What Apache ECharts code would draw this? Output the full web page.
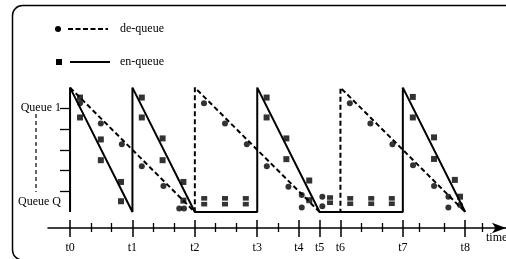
<!DOCTYPE html>
<html>
<head>
<meta charset="utf-8">
<script src="https://cdn.jsdelivr.net/npm/echarts@6/dist/echarts.min.js"></script>
<style>html,body{margin:0;padding:0;background:#fff}#c{width:506px;height:259px}</style>
</head>
<body>
<div id="c"></div>
<script>
// ---- data ----
const majorTimes = [0, 3, 6, 9, 11, 12, 13, 16, 19];
const timeLabels = ['t0', 't1', 't2', 't3', 't4', 't5', 't6', 't7', 't8'];
const minorTimes = [1, 2, 4, 5, 7, 8, 10, 14, 15, 16.8, 18, 19.8];
const queueTickValues = [1, 2, 3, 4, 5];
const queueLabelValues = [5, 0.5];
const queueLabels = ['Queue 1', 'Queue Q'];

const enqueueLineT = [0, 0, 3, 3, 6, 9, 9, 12, 16, 16, 19];
const enqueueLineQ = [0, 6, 0, 6, 0, 0, 6, 0, 0, 6, 0];
const dequeueLineT = [0, 6, 6, 12, 13, 13, 19];
const dequeueLineQ = [6, 0, 6, 0, 0, 6, 0];

const enqueuePtsT = [0.48, 0.48, 1.48, 1.48, 2.45, 2.45, 3.45, 3.45, 4.45, 4.45, 5.45, 5.45,
  9.45, 9.45, 10.4, 10.4, 11.5, 11.5, 16.48, 16.48, 17.5, 17.5, 18.5, 18.75];
const enqueuePtsQ = [5.52, 4.56, 3.5, 2.5, 1.45, 0.52, 5.52, 4.56, 3.55, 2.5, 1.45, 0.55,
  5.52, 4.56, 3.55, 2.55, 1.52, 0.57, 5.55, 4.56, 3.6, 2.56, 1.55, 0.74];
const enqueueStackT = [6.45, 6.45, 7.45, 7.45, 8.45, 8.45, 12.5, 12.5, 13.47, 13.47, 14.48, 14.48, 15.47, 15.47];
const enqueueStackQ = [0.66, 0.38, 0.66, 0.38, 0.66, 0.38, 0.7, 0.45, 0.66, 0.4, 0.66, 0.4, 0.66, 0.4];

const dequeuePtsT = [0.48, 1.48, 2.49, 3.45, 4.49, 5.25, 5.48, 6.44, 7.45, 8.5, 9.46, 10.5, 11.14, 11.14, 12.13, 12.13,
  13.45, 14.44, 15.5, 16.49, 17.5, 18.19, 18.19, 18.75];
const dequeuePtsQ = [5.24, 4.27, 3.27, 2.21, 1.25, 0.17, 0.17, 5.24, 4.27, 3.27, 2.21, 1.22, 0.82, 0.22, 0.74, 0.28,
  5.24, 4.27, 3.27, 2.25, 1.25, 0.74, 0.22, 0.34];

const zip = (a, b) => a.map((v, i) => [v, b[i]]);
const FONT = 'Liberation Serif';
const INK = '#000';

const chart = echarts.init(document.getElementById('c'), null, { renderer: 'canvas' });
const xBase = { type: 'value', min: -1.06, max: 20.96, position: 'bottom', splitLine: { show: false } };
const option = {
  animation: false,
  backgroundColor: '#fff',
  grid: { left: 48, right: 0, top: 87.6, bottom: 31, containLabel: false, outerBoundsMode: 'none' },
  xAxis: [
    Object.assign({}, xBase, {
      name: 'time', nameLocation: 'end', nameGap: -20,
      nameTextStyle: { fontFamily: FONT, fontSize: 12, color: INK, align: 'left', verticalAlign: 'top', padding: [4, 0, 0, 0] },
      axisLine: { show: true, onZero: false, symbol: ['none', 'arrow'], symbolSize: [8, 14], lineStyle: { color: INK, width: 1.5 } },
      axisTick: { show: true, inside: false, length: 9, customValues: majorTimes, lineStyle: { color: INK, width: 1.5 } },
      axisLabel: { show: true, margin: 14, customValues: majorTimes, fontFamily: FONT, fontSize: 12, color: INK,
        formatter: v => timeLabels[majorTimes.indexOf(v)] }
    }),
    Object.assign({}, xBase, {
      axisLine: { show: false, onZero: false },
      axisTick: { show: true, inside: true, length: 8, customValues: majorTimes, lineStyle: { color: INK, width: 1.5 } },
      axisLabel: { show: false }
    }),
    Object.assign({}, xBase, {
      axisLine: { show: false, onZero: false },
      axisTick: { show: true, inside: false, length: 4, customValues: minorTimes, lineStyle: { color: INK, width: 1.3 } },
      axisLabel: { show: false }
    }),
    Object.assign({}, xBase, {
      axisLine: { show: false, onZero: false },
      axisTick: { show: true, inside: true, length: 5, customValues: minorTimes, lineStyle: { color: INK, width: 1.3 } },
      axisLabel: { show: false }
    })
  ],
  yAxis: {
    type: 'value', min: -0.77, max: 6, position: 'left', offset: -22,
    splitLine: { show: false },
    axisLine: { show: false, onZero: false },
    axisTick: { show: true, inside: false, length: 10, customValues: queueTickValues, lineStyle: { color: INK, width: 1.3 } },
    axisLabel: { show: true, margin: 9, customValues: queueLabelValues, fontFamily: FONT, fontSize: 12, color: INK,
      formatter: v => queueLabels[queueLabelValues.indexOf(v)] }
  },
  series: [
    { name: 'en-queue', type: 'line', data: zip(enqueueLineT, enqueueLineQ), symbol: 'none',
      lineStyle: { color: INK, width: 2 }, clip: false },
    { name: 'de-queue', type: 'line', data: zip(dequeueLineT, dequeueLineQ), symbol: 'none',
      lineStyle: { color: INK, width: 2, type: [5, 3] }, clip: false },
    { name: 'en-queue pts', type: 'scatter', data: zip(enqueuePtsT, enqueuePtsQ), symbol: 'rect', symbolSize: 6,
      itemStyle: { color: INK } },
    { name: 'en-queue stack', type: 'scatter', data: zip(enqueueStackT, enqueueStackQ), symbol: 'rect', symbolSize: [6, 4.6],
      itemStyle: { color: INK } },
    { name: 'de-queue pts', type: 'scatter', data: zip(dequeuePtsT, dequeuePtsQ), symbol: 'circle', symbolSize: 6,
      itemStyle: { color: INK } }
  ],
  graphic: [
    { type: 'rect', shape: { x: 12.5, y: 5.5, width: 520, height: 254.5, r: 10 }, style: { fill: 'none', stroke: INK, lineWidth: 1.5 }, silent: true },
    { type: 'line', shape: { x1: 36, y1: 114, x2: 36, y2: 192 }, style: { stroke: INK, lineWidth: 1.2, lineDash: [4, 3] }, silent: true },
    { type: 'circle', shape: { cx: 58, cy: 29, r: 3 }, style: { fill: INK } },
    { type: 'line', shape: { x1: 68, y1: 29, x2: 108, y2: 29 }, style: { stroke: INK, lineWidth: 2, lineDash: [5, 2.5] } },
    { type: 'text', x: 120, y: 29, style: { text: 'de-queue', font: '12px "Liberation Serif"', fill: INK, verticalAlign: 'middle' } },
    { type: 'rect', shape: { x: 56, y: 59, width: 6, height: 6 }, style: { fill: INK } },
    { type: 'line', shape: { x1: 70, y1: 62, x2: 110, y2: 62 }, style: { stroke: INK, lineWidth: 2 } },
    { type: 'text', x: 120, y: 62, style: { text: 'en-queue', font: '12px "Liberation Serif"', fill: INK, verticalAlign: 'middle' } }
  ]
};
chart.setOption(option);
</script>
</body>
</html>
